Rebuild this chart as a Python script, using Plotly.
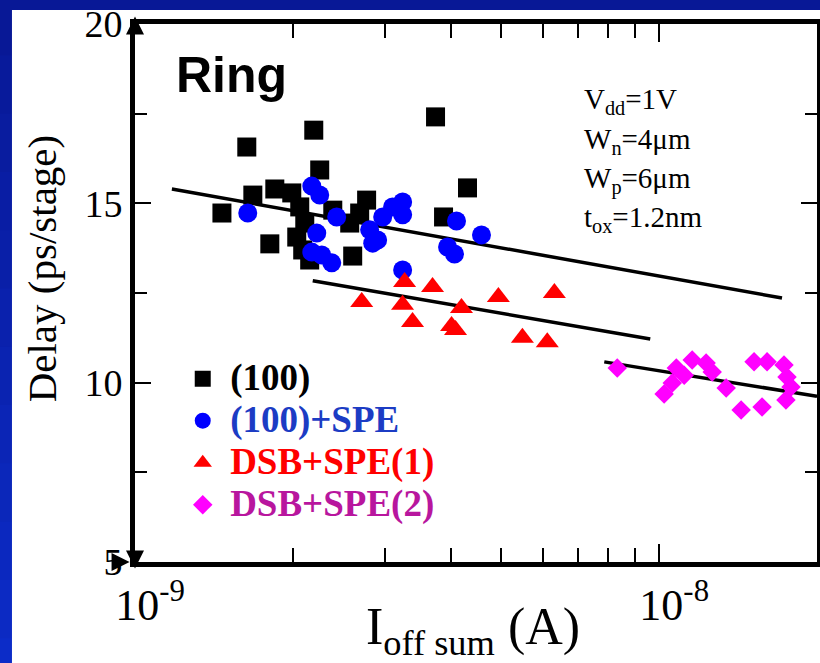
import math
import plotly.graph_objects as go

NANO = 1e-9

# Off-state leakage (nA, converted to A below) and ring-oscillator delay per stage
sq_x = [1.465, 1.634, 1.678, 1.808, 1.848, 1.991, 2.062, 2.035, 2.108, 2.154, 2.089,
        2.193, 2.251, 2.384, 2.568, 2.602, 2.683, 2.766, 3.744, 3.878, 4.308]
sq_y = [14.73, 16.57, 15.23, 13.87, 15.40, 15.29, 14.90, 14.06, 14.45, 13.42, 13.70,
        17.04, 15.93, 14.81, 14.45, 13.53, 14.73, 15.09, 17.41, 14.62, 15.43]

circ_x = [1.641, 2.174, 2.251, 2.425, 2.222, 2.174, 2.271, 2.373, 2.803, 2.903,
          2.841, 2.968, 3.10, 3.24, 3.24, 3.24, 4.105, 3.947, 4.069, 4.581]
circ_y = [14.73, 15.48, 15.23, 14.62, 14.17, 13.64, 13.56, 13.34, 14.26, 13.98,
          13.89, 14.62, 14.90, 15.04, 14.68, 13.14, 14.51, 13.78, 13.59, 14.12]

tri_x = [2.707, 3.268, 3.239, 3.384, 3.695, 4.196, 4.017, 4.088, 4.934, 6.31, 5.483, 6.116]
tri_y = [12.25, 12.81, 12.17, 11.69, 12.67, 12.08, 11.58, 11.47, 12.39, 12.50, 11.25, 11.13]

dia_x = [8.318, 10.22, 10.59, 10.78, 11.16, 11.56, 12.29, 12.62, 13.42, 14.33,
         15.17, 16.06, 15.71, 17.30, 17.53, 17.84, 17.45]
dia_y = [10.41, 9.685, 9.99, 10.41, 10.21, 10.63, 10.55, 10.30, 9.85, 9.24,
         10.58, 10.58, 9.32, 10.49, 10.16, 9.88, 9.52]

# Trend lines (end points)
fit1_x, fit1_y = [1.176, 17.15], [15.40, 12.36]
fit2_x, fit2_y = [2.183, 9.614], [12.84, 11.22]
fit3_x, fit3_y = [7.856, 20.0], [10.58, 9.62]

series_names = ["(100)", "(100)+SPE", "DSB+SPE(1)", "DSB+SPE(2)"]
name_colors = ["#000000", "#1c3cc4", "#ff0000", "#b8169e"]

x_tick_vals = [1e-9, 1e-8]
x_tick_text = ["10<sup>-9</sup>", "10<sup>-8</sup>"]
x_minor_vals = [k * 1e-9 for k in range(2, 10)] + [2e-8]
y_tick_vals = [5, 10, 15, 20]
y_minor_vals = [7.5, 12.5, 17.5]

SERIF = "Liberation Serif"
SANS = "Liberation Sans"


def amps(vals):
    return [v * NANO for v in vals]


def legend_label(i):
    return "<span style='font-size:37px;color:%s'>\u2009%s</span>" % (name_colors[i], series_names[i])


fig = go.Figure()

for fx, fy in [(fit1_x, fit1_y), (fit2_x, fit2_y), (fit3_x, fit3_y)]:
    fig.add_trace(go.Scatter(x=amps(fx), y=fy, mode="lines",
                             line=dict(color="black", width=3.5),
                             showlegend=False, hoverinfo="skip"))

fig.add_trace(go.Scatter(x=amps(sq_x), y=sq_y, mode="markers", name=legend_label(0),
                         marker=dict(symbol="square", size=19, color="black")))
fig.add_trace(go.Scatter(x=amps(circ_x), y=circ_y, mode="markers", name=legend_label(1),
                         marker=dict(symbol="circle", size=19, color="#0000ff")))
fig.add_trace(go.Scatter(x=amps(tri_x), y=tri_y, mode="markers", name=legend_label(2),
                         marker=dict(symbol="triangle-up", size=20, color="#ff0000")))
fig.add_trace(go.Scatter(x=amps(dia_x), y=dia_y, mode="markers", name=legend_label(3),
                         marker=dict(symbol="diamond", size=15, color="#ff00ff")))

# Page background: blue frame with a white sheet
shapes = []
n_bands = 12
top_c, bot_c = (8, 24, 150), (12, 44, 200)
for i in range(n_bands):
    t = i / (n_bands - 1)
    c = tuple(int(round(a + (b - a) * t)) for a, b in zip(top_c, bot_c))
    y_hi = 1.05 - i * (1.30 / n_bands)
    y_lo = y_hi - 1.30 / n_bands - 0.002
    shapes.append(dict(type="rect", xref="paper", yref="paper", layer="below",
                       x0=-0.25, x1=1.05, y0=y_lo, y1=y_hi,
                       fillcolor="rgb(%d,%d,%d)" % c, line=dict(width=0)))
shapes.append(dict(type="rect", xref="paper", yref="paper", layer="below",
                   x0=-0.1804, x1=1.05, y0=-0.25, y1=1.026,
                   fillcolor="white", line=dict(width=0)))

annotations = [
    dict(text="<b>Ring</b>", xref="paper", yref="paper", x=0.057, y=0.905,
         xanchor="left", yanchor="middle", showarrow=False,
         font=dict(family=SANS, size=50, color="black")),
    # axis titles, placed as free text
    dict(text="Delay (ps/stage)", xref="paper", yref="paper", x=-0.137, y=0.545,
         xanchor="center", yanchor="middle", textangle=-90, showarrow=False,
         font=dict(family=SERIF, size=41, color="black")),
    dict(text="I<sub>off sum</sub> (A)", xref="paper", yref="paper", x=0.4956, y=-0.127,
         xanchor="center", yanchor="middle", showarrow=False,
         font=dict(family=SERIF, size=52, color="black")),
]
param_lines = ["V<sub>dd</sub>=1V", "W<sub>n</sub>=4\u03bcm",
               "W<sub>p</sub>=6\u03bcm", "t<sub>ox</sub>=1.2nm"]
for i, s in enumerate(param_lines):
    annotations.append(dict(text=s, xref="paper", yref="paper", x=0.655,
                            y=0.856 - i * 0.0731, xanchor="left", yanchor="middle",
                            showarrow=False,
                            font=dict(family=SERIF, size=29, color="black")))

# Arrow heads at the ends of the axes
for (x, y, ax, ay) in [(0, 1.014, 0, 14), (0, -0.012, 0, -14),
                       (-0.008, 0, -14, 0), (1.004, 0, 14, 0)]:
    annotations.append(dict(text="", xref="paper", yref="paper", x=x, y=y,
                            ax=ax, ay=ay, showarrow=True, arrowhead=2,
                            arrowsize=1.2, arrowwidth=3, arrowcolor="black"))

fig.update_layout(
    width=820, height=663,
    margin=dict(l=135, r=3, t=24, b=101, autoexpand=False),
    paper_bgcolor="rgb(10,30,170)", plot_bgcolor="white",
    shapes=shapes, annotations=annotations,
    showlegend=True,
    legend=dict(x=0.07, y=0.389, xanchor="left", yanchor="top",
                bgcolor="rgba(0,0,0,0)", itemwidth=30, tracegroupgap=0,
                font=dict(family=SERIF, size=30, color="black", weight="bold")),
    xaxis=dict(type="log", range=[-9, math.log10(2e-8)],
               tickvals=x_tick_vals, ticktext=x_tick_text,
               ticks="inside", ticklen=18, tickwidth=2, tickcolor="black",
               showline=True, linewidth=5, linecolor="black", mirror="ticks",
               showgrid=False, zeroline=False, ticklabelshift=15,
               tickfont=dict(family=SERIF, size=44, color="black"),
               minor=dict(tickvals=x_minor_vals, ticks="inside", ticklen=14,
                          tickwidth=1.5, tickcolor="black", showgrid=False)),
    yaxis=dict(range=[5, 20], tickvals=y_tick_vals,
               ticks="inside", ticklen=16, tickwidth=2, tickcolor="black",
               showline=True, linewidth=5, linecolor="black", mirror="ticks",
               showgrid=False, zeroline=False,
               tickfont=dict(family=SERIF, size=38, color="black"),
               minor=dict(tickvals=y_minor_vals, ticks="inside", ticklen=12,
                          tickwidth=1.5, tickcolor="black", showgrid=False)),
)

fig.write_html("out.html")
